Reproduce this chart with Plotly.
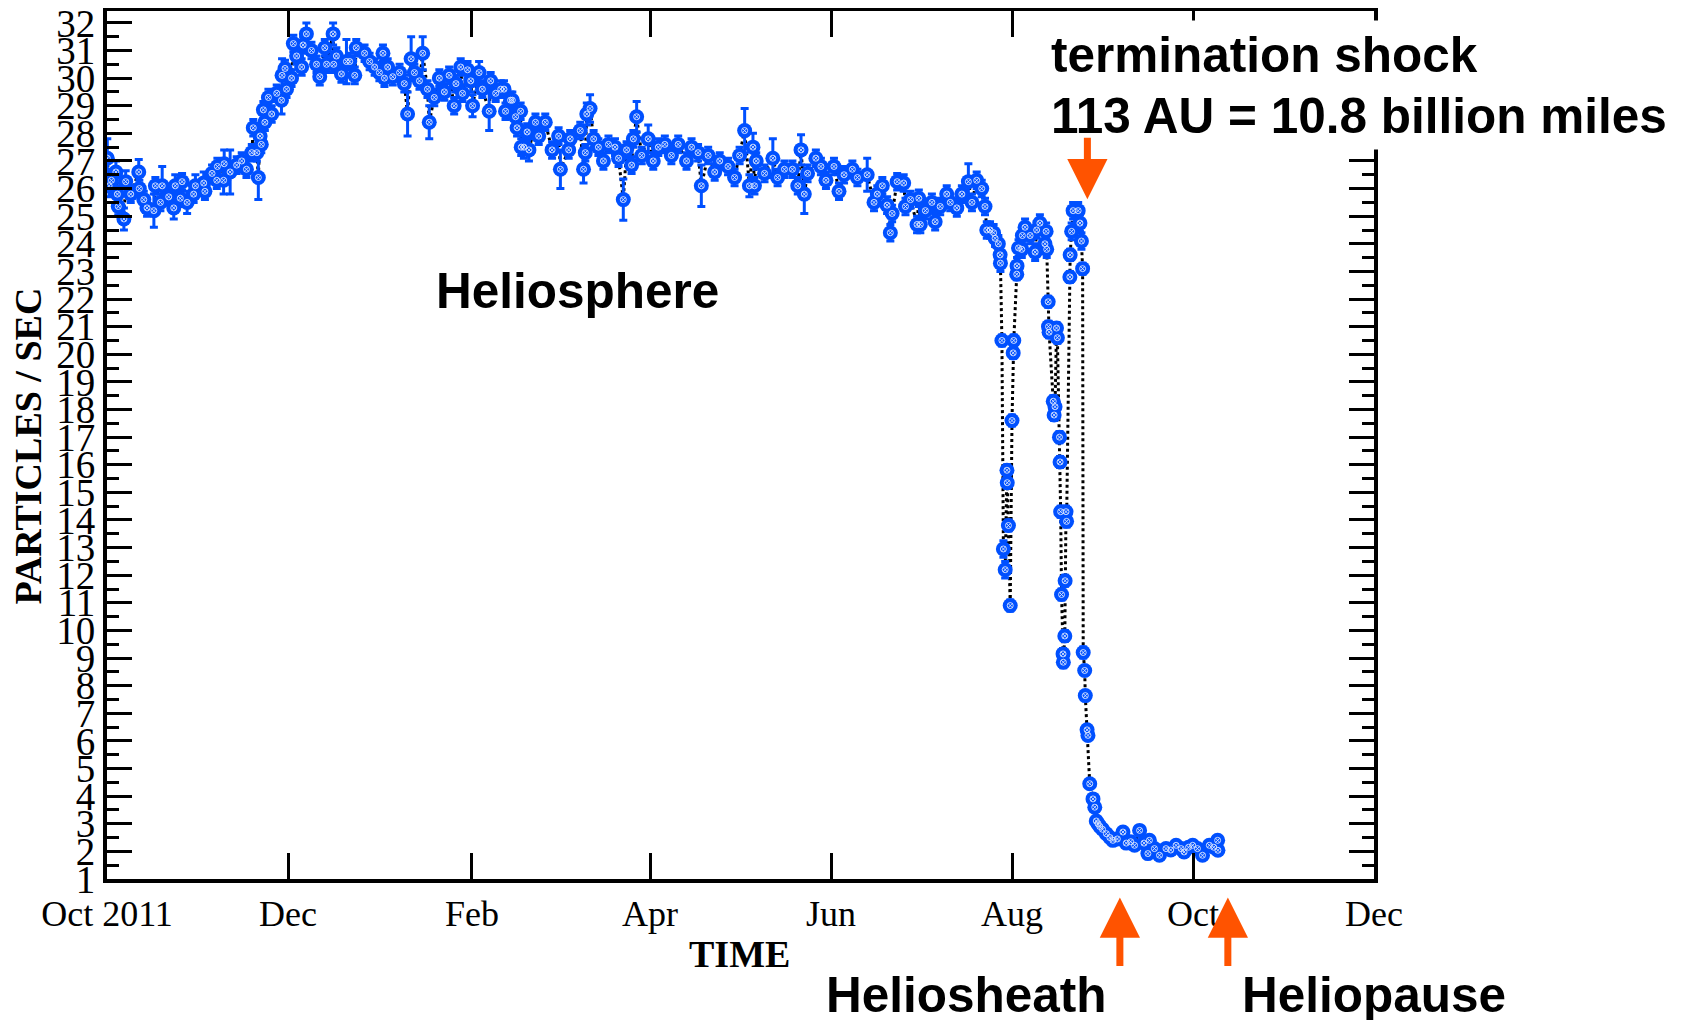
import plotly.graph_objects as go
import pandas as pd

# ---- data: days since 2011-10-01, particle counts (particles/sec), error bars ----
# Segment A: Oct 2011 - Feb 2012
days_a = [0.1, 0.7, 1.5, 3.0, 3.5, 3.8, 5.7, 6.3, 8.0, 10.7,
          10.9, 12.4, 13.5, 15.8, 16.3, 18.0, 18.6, 20.8, 22.5, 23.0,
          24.7, 25.3, 27.0, 29.2, 29.8, 32.6, 33.0, 35.4, 37.0, 37.2,
          39.3, 39.5, 41.5, 43.7, 45.4, 47.0, 48.8, 49.3, 50.5, 51.0,
          51.6, 52.0, 52.7, 53.2, 54.4, 55.5, 57.2, 58.8, 59.0, 60.0,
          60.5, 62.2, 62.8, 63.9, 65.6, 66.1, 67.2, 68.9, 70.6, 71.7,
          73.4, 74.0, 76.2, 76.4, 77.3, 79.0, 80.7, 81.8, 83.5, 84.0,
          86.8, 88.5, 90.2, 91.8, 93.0, 93.5, 94.6, 96.3, 98.6, 100.2,
          101.3, 102.5, 103.6, 105.3, 106.4, 108.0, 108.6, 110.3, 112.0, 113.7,
          115.3, 117.0, 117.6, 119.2, 119.8, 121.5, 122.6, 123.2, 125.4, 126.5,
          128.8, 129.3, 131.0, 132.7]
counts_a = [27.1, 26.1, 26.3, 26.6, 25.8, 25.35, 24.9, 26.25, 25.8, 26.6,
            26.0, 25.6, 25.3, 25.2, 26.1, 25.5, 26.1, 25.7, 25.3, 26.1,
            25.65, 26.25, 25.5, 25.8, 26.1, 26.2, 25.9, 26.55, 26.3, 26.8,
            26.3, 26.9, 26.6, 26.85, 27.0, 26.7, 27.3, 28.2, 27.3, 26.4,
            27.9, 27.6, 28.85, 28.4, 29.3, 28.7, 29.45, 29.2, 30.1, 30.35,
            29.6, 30.0, 31.25, 30.8, 30.4, 31.2, 31.6, 31.0, 30.5, 30.05,
            31.1, 30.5, 31.6, 30.5, 30.8, 30.15, 30.6, 30.6, 30.1, 31.1,
            30.9, 30.6, 30.4, 30.2, 30.9, 30.0, 30.4, 30.05, 30.2, 29.8,
            28.7, 30.7, 30.2, 29.9, 30.9, 29.6, 28.4, 29.3, 30.0, 29.5,
            30.1, 29.0, 29.8, 30.4, 29.45, 30.3, 29.9, 29.0, 30.2, 29.6,
            28.8, 29.9, 29.45, 29.6]
errs_a = [0.7, 0.4, 0.4, 0.4, 0.3, 0.3, 0.4, 0.4, 0.3, 0.45,
          0.3, 0.3, 0.3, 0.6, 0.3, 0.3, 0.7, 0.3, 0.4, 0.4,
          0.3, 0.3, 0.4, 0.3, 0.4, 0.4, 0.3, 0.3, 0.3, 0.3,
          0.5, 0.5, 0.8, 0.3, 0.3, 0.3, 0.3, 0.3, 0.3, 0.8,
          0.3, 0.3, 0.3, 0.3, 0.3, 0.3, 0.3, 0.5, 0.6, 0.3,
          0.3, 0.3, 0.3, 0.3, 0.3, 0.3, 0.4, 0.3, 0.3, 0.3,
          0.3, 0.3, 0.4, 0.3, 0.3, 0.3, 0.8, 0.3, 0.3, 0.3,
          0.3, 0.3, 0.3, 0.3, 0.3, 0.3, 0.3, 0.3, 0.3, 0.3,
          0.8, 0.8, 0.3, 0.3, 0.6, 0.3, 0.6, 0.3, 0.3, 0.3,
          0.3, 0.3, 0.3, 0.3, 0.3, 0.3, 0.4, 0.4, 0.4, 0.3,
          0.7, 0.3, 0.3, 0.3]

# Segment B: Feb 2012 - Jul 2012
days_b = [133.8, 134.3, 136.0, 136.6, 137.7, 138.2, 139.4, 139.6, 140.5, 141.6,
          142.2, 144.4, 145.5, 147.7, 150.0, 152.2, 152.8, 155.6, 156.1, 159.5,
          160.6, 161.2, 161.7, 162.8, 164.0, 165.6, 167.3, 169.0, 171.2, 172.4,
          174.0, 175.1, 176.8, 177.4, 178.5, 180.2, 182.4, 184.1, 185.8, 188.0,
          190.2, 192.5, 195.3, 197.0, 199.2, 200.3, 202.6, 204.8, 206.5, 209.3,
          211.5, 213.2, 214.9, 216.5, 217.7, 218.2, 218.8, 221.6, 224.4, 226.0,
          228.3, 231.0, 232.8, 233.9, 235.0, 236.1, 238.9, 240.6, 242.3, 245.0,
          246.7, 248.4, 251.2, 252.9, 256.2, 258.5, 259.6, 261.3, 262.9, 264.0,
          264.6, 266.3, 268.5, 269.1, 270.8, 273.0, 273.6, 274.1, 275.8, 278.0,
          279.1, 280.8, 283.0, 284.2, 286.4, 288.1, 290.3, 291.5, 293.1, 294.8,
          295.9]
counts_b = [29.6, 28.8, 29.2, 29.2, 28.6, 28.2, 28.8, 27.5, 27.5, 28.05,
            27.4, 28.4, 27.9, 28.4, 27.4, 27.9, 26.7, 27.4, 27.8, 28.1,
            26.7, 27.3, 28.7, 28.9, 27.8, 27.5, 27.0, 27.6, 27.5, 27.1,
            25.6, 27.4, 26.85, 27.8, 28.6, 27.2, 27.8, 27.0, 27.5, 27.6,
            27.2, 27.6, 27.0, 27.5, 27.3, 26.1, 27.2, 26.6, 27.0, 26.8,
            26.4, 27.2, 28.1, 26.1, 27.5, 26.1, 27.0, 26.55, 27.1, 26.4,
            26.7, 26.7, 26.1, 27.4, 25.8, 26.55, 27.1, 26.8, 26.3, 26.8,
            25.9, 26.5, 26.7, 26.4, 26.5, 25.5, 25.8, 26.1, 25.4, 24.4,
            25.1, 26.25, 26.2, 25.35, 25.6, 24.7, 25.65, 24.7, 25.2, 25.5,
            24.8, 25.35, 25.8, 25.5, 25.3, 25.8, 26.25, 25.5, 26.3, 26.0,
            25.35]
errs_b = [0.3, 0.3, 0.3, 0.3, 0.3, 0.3, 0.3, 0.3, 0.4, 0.3,
          0.4, 0.3, 0.3, 0.3, 0.3, 0.3, 0.7, 0.3, 0.3, 0.3,
          0.5, 0.3, 0.4, 0.5, 0.3, 0.3, 0.3, 0.3, 0.3, 0.3,
          0.75, 0.3, 0.3, 0.3, 0.55, 0.3, 0.5, 0.3, 0.3, 0.3,
          0.3, 0.3, 0.3, 0.3, 0.3, 0.75, 0.3, 0.3, 0.3, 0.3,
          0.3, 0.3, 0.8, 0.4, 0.5, 0.3, 0.3, 0.3, 0.7, 0.3,
          0.3, 0.3, 0.3, 0.55, 0.7, 0.3, 0.3, 0.3, 0.3, 0.3,
          0.3, 0.3, 0.3, 0.3, 0.6, 0.3, 0.3, 0.3, 0.3, 0.3,
          0.3, 0.3, 0.3, 0.3, 0.3, 0.3, 0.3, 0.3, 0.3, 0.3,
          0.3, 0.3, 0.3, 0.3, 0.3, 0.3, 0.65, 0.3, 0.3, 0.3,
          0.3]

# Segment C: the two drop-outs, late Jul - Aug 2012
days_c = [296.5, 297.6, 298.8, 299.3, 300.4, 301.0, 301.1, 301.6, 302.1, 302.7,
          303.3, 303.4, 303.8, 304.4, 305.0, 305.4, 305.6, 306.6, 306.7, 307.2,
          308.3, 308.5, 309.4, 311.1, 312.8, 313.3, 314.4, 316.1, 316.5, 316.7,
          317.2, 317.3, 317.5, 318.9, 319.2, 319.5, 320.0, 320.3, 321.0, 321.2,
          321.4, 321.7, 322.2, 322.3, 322.8, 322.9, 323.2, 323.4, 324.5, 324.6,
          325.1, 325.6, 327.3, 327.9, 328.4, 328.8]
counts_c = [24.5, 24.5, 24.4, 24.2, 24.0, 23.6, 23.3, 20.5, 12.95, 12.2,
            15.8, 15.35, 13.8, 10.9, 17.6, 20.05, 20.5, 22.9, 23.2, 23.85,
            23.8, 24.3, 24.6, 24.3, 23.7, 24.5, 24.75, 24.0, 24.45, 23.8,
            21.9, 21.0, 20.8, 18.3, 17.8, 18.1, 20.95, 20.6, 17.0, 16.1,
            14.3, 11.3, 9.15, 8.85, 9.8, 11.8, 14.3, 13.95, 22.8, 23.6,
            24.45, 25.2, 25.2, 24.75, 24.1, 23.1]
errs_c = [0.3, 0.3, 0.3, 0.3, 0.3, 0.3, 0.3, 0.2, 0.3, 0.3,
          0.2, 0.2, 0.2, 0.2, 0.2, 0.2, 0.2, 0.2, 0.3, 0.3,
          0.3, 0.3, 0.3, 0.3, 0.3, 0.3, 0.3, 0.3, 0.3, 0.3,
          0.2, 0.2, 0.2, 0.2, 0.2, 0.2, 0.2, 0.2, 0.2, 0.2,
          0.2, 0.2, 0.2, 0.2, 0.2, 0.2, 0.2, 0.2, 0.2, 0.2,
          0.3, 0.3, 0.3, 0.3, 0.3, 0.2]

# Segment D: final drop and heliosheath, late Aug - Oct 2012
days_d = [329.0, 329.5, 329.7, 330.3, 330.6, 331.2, 332.3, 332.9, 333.4, 334.0,
          334.6, 335.5, 336.8, 338.0, 339.0, 340.5, 342.4, 343.5, 345.0, 346.3,
          348.0, 349.5, 350.8, 351.3, 353.0, 354.7, 356.9, 358.5, 360.3, 362.0,
          363.0, 364.5, 365.9, 367.5, 369.2, 371.5, 373.0, 374.3, 374.4]
counts_d = [9.2, 8.55, 7.64, 6.4, 6.2, 4.45, 3.9, 3.6, 3.1, 3.0,
            2.9, 2.8, 2.64, 2.5, 2.4, 2.45, 2.7, 2.3, 2.35, 2.22,
            2.76, 2.3, 1.92, 2.4, 2.1, 1.86, 2.1, 2.05, 2.22, 2.1,
            1.98, 2.15, 2.22, 2.1, 1.86, 2.22, 2.15, 2.4, 2.04]
errs_d = [0.2, 0.15, 0.15, 0.15, 0.15, 0.1, 0.1, 0.1, 0.1, 0.1,
          0.1, 0.1, 0.1, 0.1, 0.1, 0.1, 0.1, 0.1, 0.1, 0.1,
          0.1, 0.1, 0.1, 0.1, 0.1, 0.1, 0.1, 0.1, 0.1, 0.1,
          0.1, 0.1, 0.1, 0.1, 0.1, 0.1, 0.1, 0.1, 0.1]

x_tick_dates = ['2011-10-01', '2011-12-01', '2012-02-01', '2012-04-01',
                '2012-06-01', '2012-08-01', '2012-10-01', '2012-12-01']
x_tick_labels = ['Oct 2011', 'Dec', 'Feb', 'Apr', 'Jun', 'Aug', 'Oct', 'Dec']
y_tick_vals = list(range(1, 33))

# ---- build ----
start = pd.Timestamp('2011-10-01')
days = days_a + days_b + days_c + days_d
counts = counts_a + counts_b + counts_c + counts_d
errs = errs_a + errs_b + errs_c + errs_d
dates = [start + pd.Timedelta(days=d) for d in days]

BLUE = '#0050ff'
ORANGE = '#ff5300'

fig = go.Figure()
fig.add_trace(go.Scatter(x=dates, y=counts, mode='lines',
                         line=dict(color='black', width=3, dash='dot'),
                         hoverinfo='skip'))
fig.add_trace(go.Scatter(x=dates, y=counts, mode='markers',
                         marker=dict(symbol='circle', size=15, color=BLUE),
                         error_y=dict(type='data', array=errs, color=BLUE,
                                      thickness=3, width=4)))
fig.add_trace(go.Scatter(x=dates, y=counts, mode='markers',
                         marker=dict(symbol='circle-x-open', size=6, color='#dbe6ff',
                                     line=dict(width=0.9, color='#dbe6ff')),
                         hoverinfo='skip'))

# plot-area edges in screenshot pixels; page body adds an 8 px offset
OFF = 8
FW, FH = 1677, 1012
L, R, T, B = 106.8, 1374.2, 10.9, 878.6
W, H = R - L, B - T


def px(x):
    return (x - L) / W


def py(y):
    return (B - y) / H


serif = 'Liberation Serif, Times New Roman, serif'
sans = 'Liberation Sans, Arial, sans-serif'

fig.update_layout(
    width=FW, height=FH,
    margin=dict(l=L - OFF, r=FW - (R - OFF), t=T - OFF, b=FH - (B - OFF), pad=0,
                autoexpand=False),
    paper_bgcolor='white', plot_bgcolor='white',
    showlegend=False,
    xaxis=dict(type='date', range=['2011-10-01', '2012-12-01'], automargin=False,
               tickmode='array', tickvals=x_tick_dates, ticktext=x_tick_labels,
               ticks='inside', ticklen=26, tickwidth=3, tickcolor='black',
               showline=True, linewidth=4, linecolor='black', mirror='ticks',
               showgrid=False, zeroline=False, ticklabeloverflow='allow',
               tickfont=dict(family=serif, size=36, color='black')),
    yaxis=dict(range=[1, 32.43], tickmode='array', tickvals=y_tick_vals,
               automargin=False,
               ticks='inside', ticklen=25, tickwidth=3, tickcolor='black',
               minor=dict(tickmode='linear', tick0=1, dtick=0.5, ticks='inside',
                          ticklen=12, tickwidth=3, tickcolor='black', showgrid=False),
               showline=True, linewidth=4, linecolor='black', mirror='ticks',
               showgrid=False, zeroline=False, ticklabeloverflow='allow',
               tickfont=dict(family=serif, size=39, color='black')),
)

annotations = [
    dict(text='<b>PARTICLES / SEC</b>', x=px(28), y=py(446), textangle=-90,
         font=dict(family=serif, size=38, color='black')),
    dict(text='<b>TIME</b>', x=px(739), y=py(954),
         font=dict(family=serif, size=38, color='black')),
    dict(text='<b>Heliosphere</b>', x=px(577), y=py(290),
         font=dict(family=sans, size=49.5, color='black')),
    dict(text='<b>termination shock</b>', x=px(1044), y=py(54), xanchor='left',
         bgcolor='white', borderpad=6,
         font=dict(family=sans, size=49.5, color='black')),
    dict(text='<b>113 AU = 10.8 billion miles</b>', x=px(1044), y=py(115),
         xanchor='left', bgcolor='white', borderpad=6,
         font=dict(family=sans, size=49.5, color='black')),
    dict(text='<b>Heliosheath</b>', x=px(967), y=py(994),
         font=dict(family=sans, size=49.5, color='black')),
    dict(text='<b>Heliopause</b>', x=px(1374), y=py(994),
         font=dict(family=sans, size=49.5, color='black')),
    # arrows
    dict(text='', x=px(1087.5), y=py(199), ax=0, ay=-63, showarrow=True,
         arrowhead=2, arrowsize=1.15, arrowwidth=7, arrowcolor=ORANGE, standoff=0),
    dict(text='', x=px(1120), y=py(897), ax=0, ay=70, showarrow=True,
         arrowhead=2, arrowsize=1.15, arrowwidth=7, arrowcolor=ORANGE, standoff=0),
    dict(text='', x=px(1228), y=py(897), ax=0, ay=70, showarrow=True,
         arrowhead=2, arrowsize=1.15, arrowwidth=7, arrowcolor=ORANGE, standoff=0),
]
for a in annotations:
    a.setdefault('xref', 'paper')
    a.setdefault('yref', 'paper')
    a.setdefault('showarrow', False)
    a.setdefault('xanchor', 'center')
    a.setdefault('yanchor', 'middle')
fig.update_layout(annotations=annotations)

fig.write_html('out.html')
